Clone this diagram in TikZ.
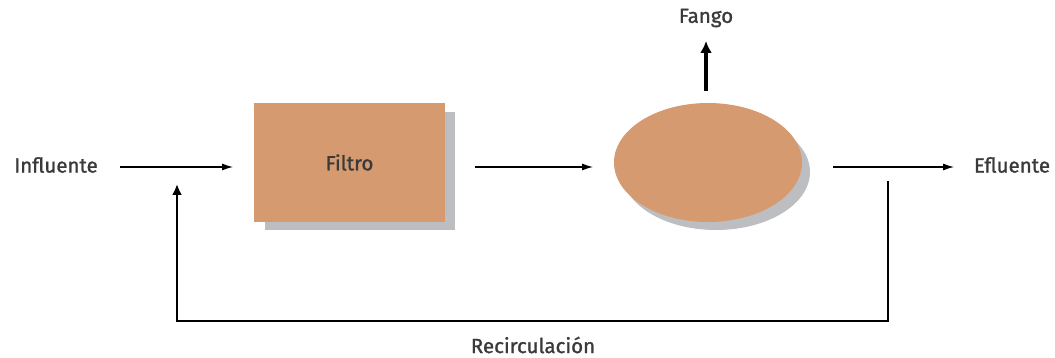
\documentclass[tikz,border=0pt]{standalone}
\usepackage{fontspec}
\setmainfont{Fira Sans}
\newfontfamily\lblfont{Fira Sans}[FakeBold=1.2]
\usetikzlibrary{arrows.meta,shapes.geometric}
\definecolor{fillc}{HTML}{D59A70}
\definecolor{shadc}{HTML}{BDBEC2}
\definecolor{txt}{HTML}{3A3A3A}
\begin{document}
\begin{tikzpicture}[x=1pt,y=-1pt,
  lbl/.style={font=\lblfont\fontsize{20.5}{24}\selectfont, text=txt, inner sep=0pt},
  thin arrow/.style={draw=black, line width=1.1pt, -{Latex[length=11pt,width=7pt]}},
  thick arrow/.style={draw=black, line width=3.4pt, -{Latex[length=12pt,width=12pt]}},
  thick line/.style={draw=black, line width=2.8pt}]
\useasboundingbox (0,0) rectangle (1055,358);
% shadows
\fill[shadc] (265,112) rectangle (455,230);
\fill[shadc] (716,172) ellipse [x radius=94, y radius=58];
% shapes
\node[draw=none, fill=fillc, minimum width=191pt, minimum height=119pt, inner sep=0pt, lbl] (filtro) at (349.5,162.5) {Filtro};
\node[ellipse, fill=fillc, minimum width=188pt, minimum height=119pt, inner sep=0pt] (sed) at (708,162.5) {};
% labels
\node[lbl] (inf) at (56,165) {Influente};
\node[lbl] (efl) at (1012,165) {Efluente};
\node[lbl] (fango) at (706,18) {Fango};
\node[lbl] (rec) at (533,345) {Recirculación};
% coordinates
\coordinate (a1s) at (120,167);
\coordinate (a1e) at (233,167);
\coordinate (a2s) at (475,167);
\coordinate (a2e) at (593,167);
\coordinate (a3s) at (833,167);
\coordinate (a3e) at (954,167);
\coordinate (fs) at (706,91);
\coordinate (fe) at (706,41);
\coordinate (r1) at (888,181);
\coordinate (r2) at (888,321);
\coordinate (r3) at (177,321);
\coordinate (r4) at (177,184);
% connectors
\draw[thin arrow] (a1s) -- (a1e);
\draw[thin arrow] (a2s) -- (a2e);
\draw[thin arrow] (a3s) -- (a3e);
\draw[thick arrow] (fs) -- (fe);
\draw[thick line] (r1) -- (r2) -- (r3) -- ([yshift=-10pt]r4);
\draw[thick line, -{Latex[length=11pt,width=10pt]}] (r3) -- (r4);
\end{tikzpicture}
\end{document}
